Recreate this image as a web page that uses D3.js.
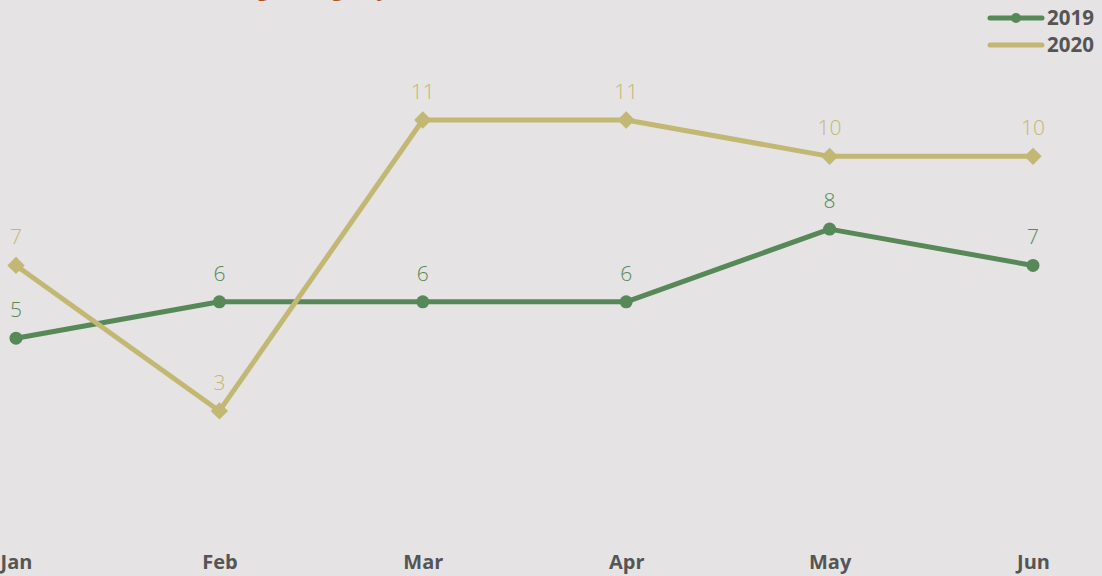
<!DOCTYPE html>
<html><head><meta charset="utf-8">
<script src="https://cdn.jsdelivr.net/npm/d3@7"></script>
<style>html,body{margin:0;padding:0;background:#e5e3e3;}svg{display:block;}</style>
</head><body>
<svg id="c" width="1102" height="576"></svg>
<script>
const months = ["Jan","Feb","Mar","Apr","May","Jun"];
const series2019 = [5,6,6,6,8,7];
const series2020 = [7,3,11,11,10,10];
const seriesNames = ["2019","2020"];
const colors = ["#578857","#c2b873"];
const titleText = "Ranking Change by Month, Year over Year";

const svg = d3.select("#c");
svg.append("rect").attr("width",1102).attr("height",576).attr("fill","#e5e3e3");

const x = d3.scalePoint().domain(months).range([16,1033]);
const y = d3.scaleLinear().domain([0,11]).range([520,120]);

svg.append("text").attr("x",180).attr("y",-4)
  .attr("font-family","Open Sans").attr("font-weight","bold").attr("font-size",22)
  .attr("fill","#b0531e").text(titleText);

const data = [series2019, series2020];
const line = d3.line().x((d,i)=>x(months[i])).y(d=>y(d));

data.forEach((vals,si)=>{
  const g = svg.append("g");
  g.append("path").attr("d",line(vals)).attr("fill","none")
    .attr("stroke",colors[si]).attr("stroke-width",5).attr("stroke-linejoin","round");
  vals.forEach((v,i)=>{
    const cx = x(months[i]), cy = y(v);
    if(si===0){
      g.append("circle").attr("cx",cx).attr("cy",cy).attr("r",6.5).attr("fill",colors[si]);
    } else {
      g.append("path").attr("d",d3.symbol().type(d3.symbolSquare).size(150)())
        .attr("transform",`translate(${cx},${cy}) rotate(45)`).attr("fill",colors[si]);
    }
    g.append("text").attr("x",cx).attr("y",cy-21).attr("text-anchor","middle")
      .attr("font-family","Open Sans").attr("font-weight",300).attr("font-size",21).attr("fill",colors[si]).text(v);
  });
});

const xAxis = svg.append("g").attr("transform","translate(0,569)")
  .call(d3.axisBottom(x).tickSize(0).tickPadding(0));
xAxis.select(".domain").remove();
xAxis.selectAll("text").attr("font-family","Open Sans").attr("font-weight","bold")
  .attr("font-size",20).attr("fill","#555").attr("dy","0");

// legend
seriesNames.forEach((n,i)=>{
  const ly = 18 + i*27;
  const lg = svg.append("g");
  lg.append("line").attr("x1",990).attr("x2",1042).attr("y1",ly).attr("y2",ly)
    .attr("stroke",colors[i]).attr("stroke-width",5).attr("stroke-linecap","round");
  if(i===0) lg.append("circle").attr("cx",1016).attr("cy",ly).attr("r",5).attr("fill",colors[i]);
  else lg.append("path").attr("d",d3.symbol().type(d3.symbolSquare).size(12)())
    .attr("transform",`translate(1016,${ly}) rotate(45)`).attr("fill",colors[i]);
  lg.append("text").attr("x",1047).attr("y",ly+7).attr("font-family","Open Sans")
    .attr("font-weight","bold").attr("font-size",20.5).attr("fill","#555").text(n);
});
</script>
</body></html>
